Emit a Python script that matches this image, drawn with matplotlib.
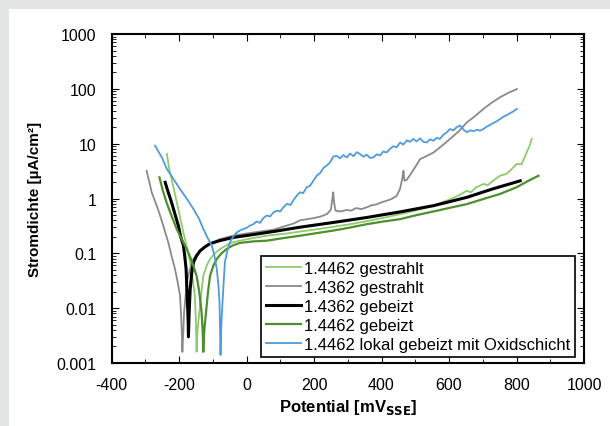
import matplotlib
matplotlib.use('Agg')
import matplotlib.pyplot as plt
from matplotlib.ticker import MultipleLocator, FuncFormatter, LogLocator, NullFormatter
from matplotlib.patches import Rectangle

plt.rcParams['font.family'] = ['Liberation Sans', 'DejaVu Sans']
plt.rcParams['axes.unicode_minus'] = False

# Stromdichte-Potential-Kurven
gs4462_x = [-236, -229, -222, -212, -202, -195, -187, -177, -167, -160, -153, -150, -148, -145, -140, -134,
            -128, -118, -108, -94, -78, -60, -39, 0, 60, 120, 159, 200, 250, 307, 360, 410, 455, 500, 554,
            600, 630, 653, 665, 680, 702, 715, 730, 751, 770, 785, 801, 815, 830, 840, 845]
gs4462_y = [6.5, 3.5, 2.27, 1.2, 0.64, 0.4, 0.24, 0.13, 0.069, 0.035, 0.017, 0.006, 0.0016, 0.004, 0.0083,
            0.018, 0.039, 0.06, 0.079, 0.1, 0.12, 0.14, 0.16, 0.18, 0.21, 0.23, 0.25, 0.27, 0.30, 0.34, 0.39,
            0.45, 0.52, 0.60, 0.74, 0.95, 1.15, 1.39, 1.3, 1.6, 1.84, 1.75, 2.1, 2.6, 2.8, 3.4, 4.3, 4.2, 6.9,
            9.5, 12.2]

gs4362_x = [-296, -288, -281, -268, -256, -244, -232, -222, -212, -204, -197, -193, -190, -187, -185, -180,
            -175, -166, -157, -140, -118, -80, -40, 0, 40, 80, 119, 140, 159, 180, 200, 220, 238, 250, 254,
            257, 260, 264, 280, 297, 310, 325, 340, 356, 370, 385, 400, 415, 430, 445, 455, 462, 465, 468,
            475, 490, 505, 514, 530, 554, 575, 603, 630, 653, 675, 702, 725, 751, 775, 801]
gs4362_y = [3.2, 2.0, 1.3, 0.8, 0.49, 0.28, 0.16, 0.09, 0.052, 0.03, 0.017, 0.006, 0.0016, 0.004, 0.0083,
            0.018, 0.034, 0.055, 0.079, 0.11, 0.14, 0.18, 0.21, 0.23, 0.25, 0.27, 0.32, 0.35, 0.40, 0.42,
            0.44, 0.47, 0.52, 0.62, 0.95, 1.30, 0.8, 0.6, 0.58, 0.62, 0.60, 0.67, 0.64, 0.69, 0.75, 0.78,
            0.85, 0.91, 0.98, 1.12, 1.5, 2.4, 3.2, 2.1, 2.2, 3.0, 4.2, 5.2, 5.8, 6.9, 8.7, 12.2, 17, 24.5,
            31, 43, 55, 70, 84, 99]

gb4362_x = [-241, -232, -222, -212, -202, -195, -187, -183, -179, -177, -175, -173, -172, -170, -167, -162,
            -157, -148, -138, -124, -108, -80, -39, 20, 80, 159, 250, 356, 455, 554, 653, 730, 811]
gb4362_y = [1.97, 1.3, 0.85, 0.52, 0.32, 0.2, 0.14, 0.09, 0.052, 0.025, 0.013, 0.006, 0.003, 0.008, 0.022,
            0.045, 0.069, 0.09, 0.11, 0.13, 0.15, 0.17, 0.195, 0.22, 0.25, 0.30, 0.36, 0.45, 0.57, 0.74,
            1.05, 1.5, 2.1]

gb4462_x = [-258, -248, -237, -222, -207, -192, -177, -163, -148, -140, -133, -130, -128, -125, -120, -114,
            -108, -98, -88, -74, -59, -40, -19, 20, 60, 110, 160, 210, 257, 300, 356, 405, 455, 505, 554,
            604, 653, 702, 751, 800, 835, 865]
gb4462_y = [2.43, 1.4, 0.85, 0.48, 0.28, 0.18, 0.12, 0.075, 0.039, 0.02, 0.0083, 0.004, 0.0016, 0.004,
            0.0083, 0.02, 0.039, 0.06, 0.079, 0.1, 0.12, 0.14, 0.155, 0.165, 0.17, 0.19, 0.21, 0.235, 0.26,
            0.29, 0.34, 0.38, 0.42, 0.50, 0.58, 0.68, 0.79, 0.98, 1.21, 1.6, 2.1, 2.6]

ox4462_x = [-271, -250, -236, -215, -197, -175, -157, -140, -128, -115, -103, -95, -88, -83, -80, -77, -74,
            -71, -67, -64, -57, -49, -40, -29, -15, 0, 10, 20, 30, 40, 50, 60, 70, 80, 90, 100, 109, 120,
            130, 140, 150, 159, 168, 178, 188, 198, 208, 218, 228, 238, 248, 257, 267, 277, 287, 297, 307,
            317, 327, 336, 346, 356, 366, 376, 386, 396, 405, 415, 425, 435, 445, 455, 465, 475, 485, 494,
            504, 514, 524, 534, 544, 554, 564, 573, 583, 593, 603, 613, 623, 633, 643, 653, 663, 673, 683,
            692, 702, 712, 722, 732, 741, 751, 761, 771, 781, 791, 801]
ox4462_y = [9.2, 5.5, 3.45, 2.2, 1.49, 0.95, 0.64, 0.42, 0.28, 0.19, 0.14, 0.09, 0.052, 0.025, 0.013,
            0.0014, 0.006, 0.013, 0.035, 0.069, 0.11, 0.16, 0.2, 0.24, 0.27, 0.29, 0.32, 0.34, 0.38, 0.36,
            0.44, 0.49, 0.47, 0.56, 0.60, 0.58, 0.69, 0.80, 0.76, 0.95, 1.15, 1.30, 1.25, 1.60, 1.70, 2.1,
            2.6, 2.9, 3.6, 4.0, 4.6, 5.8, 6.0, 5.4, 6.2, 5.6, 6.6, 5.9, 7.0, 6.5, 5.8, 6.3, 5.5, 5.6, 6.4,
            6.1, 7.2, 6.9, 8.0, 9.0, 8.6, 10.5, 9.6, 11.5, 10.8, 12.2, 11.0, 12.5, 10.8, 10.5, 12.0, 11.3,
            12.8, 12.2, 14.5, 16.0, 18.5, 17.5, 20.0, 21.5, 18.0, 16.2, 17.5, 16.8, 18.0, 17.2, 18.5, 20.5,
            22.0, 24.0, 25.5, 28.0, 31.0, 33.0, 36.0, 39.0, 43.0]

labels = ['1.4462 gestrahlt', '1.4362 gestrahlt', '1.4362 gebeizt', '1.4462 gebeizt',
          '1.4462 lokal gebeizt mit Oxidschicht']

fig = plt.figure(figsize=(6.1, 4.27), dpi=100, facecolor='#e4e6e5')
fig.patches.append(Rectangle((9 / 610, 0), 1, 417 / 427, transform=fig.transFigure,
                             facecolor='white', edgecolor='none', zorder=-10))
ax = fig.add_axes([111.5 / 610, 63 / 427, 472.5 / 610, 329 / 427])
ax.set_zorder(1)

ax.plot(gs4462_x, gs4462_y, color='#8fcb6b', lw=1.3, label=labels[0])
ax.plot(gs4362_x, gs4362_y, color='#8a8a8a', lw=1.3, label=labels[1])
ax.plot(gb4362_x, gb4362_y, color='black', lw=2.2, label=labels[2])
ax.plot(gb4462_x, gb4462_y, color='#4d8f2e', lw=1.6, label=labels[3])
ax.plot(ox4462_x, ox4462_y, color='#4f9bdb', lw=1.3, label=labels[4])

ax.set_yscale('log')
ax.set_xlim(-400, 1000)
ax.set_ylim(0.001, 1000)
ax.xaxis.set_major_locator(MultipleLocator(200))
ax.xaxis.set_minor_locator(MultipleLocator(100))
ax.yaxis.set_major_locator(LogLocator(base=10))
ax.yaxis.set_minor_locator(LogLocator(base=10, subs=range(2, 10)))
ax.yaxis.set_minor_formatter(NullFormatter())
ax.yaxis.set_major_formatter(FuncFormatter(lambda v, p: ('%g' % v)))
ax.tick_params(which='both', direction='in', top=True, right=True, labelsize=11.5)
ax.tick_params(axis='x', which='major', length=5, pad=10)
ax.tick_params(axis='y', which='major', length=5, pad=11)
ax.tick_params(which='minor', length=3)
for s in ax.spines.values():
    s.set_linewidth(1.5)

ax.set_xlabel('Potential [mV$_{\\mathbf{SSE}}$]', fontsize=12, fontweight='bold', labelpad=4)
ax.set_ylabel('Stromdichte [µA/cm²]', fontsize=11, fontweight='bold', labelpad=10)

leg = ax.legend(loc='lower right', bbox_to_anchor=(0.981, 0.018), borderaxespad=0, fontsize=12,
                handlelength=2.1, handletextpad=0.15, labelspacing=0.24, borderpad=0.3,
                fancybox=False, framealpha=1, edgecolor='black')
leg.get_frame().set_linewidth(1.2)

fig.savefig('out.png', dpi=100, facecolor=fig.get_facecolor())
